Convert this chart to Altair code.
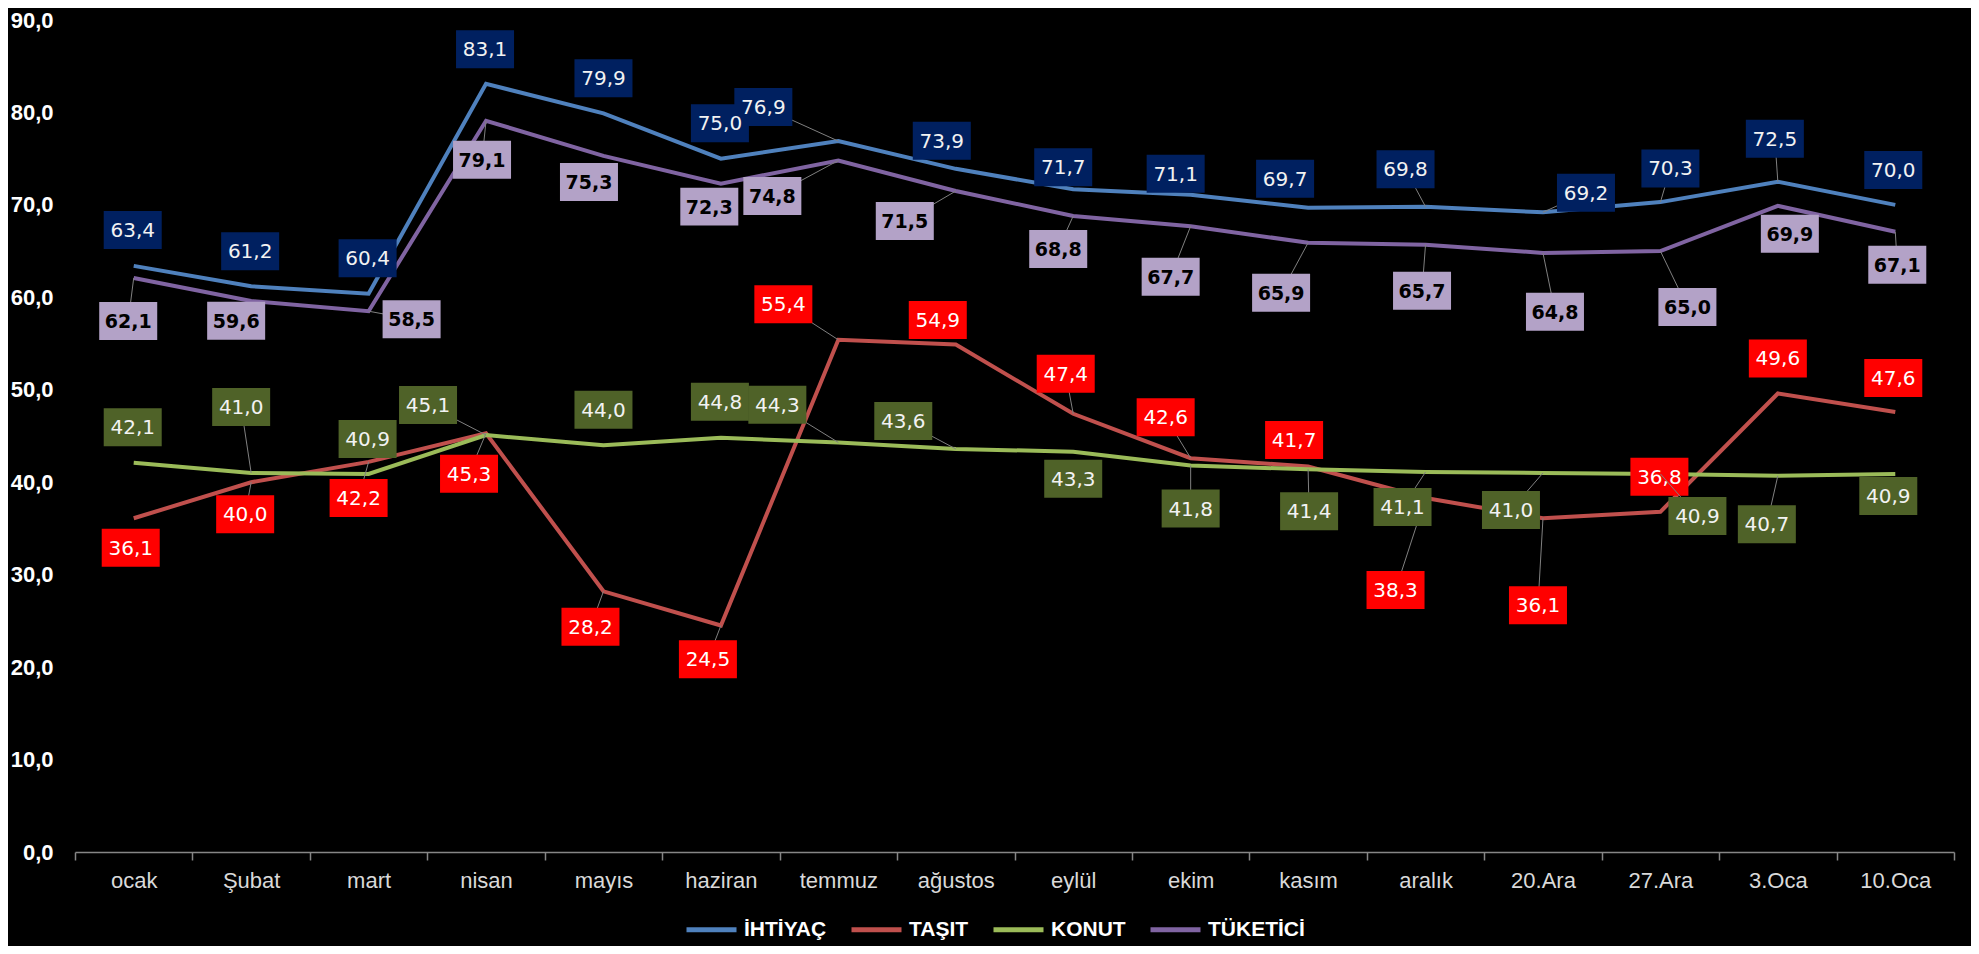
import json
import altair as alt
import pandas as pd

# ---------------- data ----------------
categories = ["ocak", "Şubat", "mart", "nisan", "mayıs", "haziran", "temmuz", "ağustos",
              "eylül", "ekim", "kasım", "aralık", "20.Ara", "27.Ara", "3.Oca", "10.Oca"]
series_names = ["İHTİYAÇ", "TAŞIT", "KONUT", "TÜKETİCİ"]

ihtiyac = [63.4, 61.2, 60.4, 83.1, 79.9, 75.0, 76.9, 73.9, 71.7, 71.1, 69.7, 69.8, 69.2, 70.3, 72.5, 70.0]
tasit = [36.1, 40.0, 42.2, 45.3, 28.2, 24.5, 55.4, 54.9, 47.4, 42.6, 41.7, 38.3, 36.1, 36.8, 49.6, 47.6]
konut = [42.1, 41.0, 40.9, 45.1, 44.0, 44.8, 44.3, 43.6, 43.3, 41.8, 41.4, 41.1, 41.0, 40.9, 40.7, 40.9]
tuketici = [62.1, 59.6, 58.5, 79.1, 75.3, 72.3, 74.8, 71.5, 68.8, 67.7, 65.9, 65.7, 64.8, 65.0, 69.9, 67.1]

# ---------------- label placement (pixel offsets from the point: dx right, dy down) ----------------
ihtiyac_dx = [-1, -1, -1, -1, 0, -1, -75, -14, -10, -15, -23, -20, 43, 10, -3, -2]
ihtiyac_dy = [-36, -35, -35.5, -34.5, -35, -35.4, -34, -28, -22, -21, -29, -37.4, -19.5, -33.7, -43, -35]
ihtiyac_leader = [6, 11, 12, 13, 14]

tasit_dx = [-3, -6, -10, -17, -13, -13, -55, -18, -7.5, -25, -14, -30, -5, -1, 0, -2]
tasit_dy = [29.5, 32, 36, 40.6, 35.5, 33.7, -35.6, -24.5, -40, -41, -26.4, 92, 87, -35, -35, -34]
tasit_leader = [1, 2, 3, 4, 5, 6, 8, 9, 11, 12]

konut_dx = [-1, -10, -1, -58, 0, -1, -61, -52.5, 0, 0, 1, -23, -32, 37, -11, -7]
konut_dy = [-35.5, -66, -35, -30, -35.5, -36, -37.7, -28, 27, 43, 42, 35, 37, 42, 48.5, 22]
konut_leader = [1, 3, 6, 7, 9, 10, 11, 12, 13, 14]

tuketici_dx = [-5.5, -15, 43, -4, -14.5, -11.6, -66, -51, -15, -20, -27, -3.5, 12, 27, 12, 2]
tuketici_dy = [43, 19.6, 8, 39, 26, 23, 35.5, 30, 33, 50.6, 50, 46, 58.7, 56, 28, 33]
tuketici_leader = [0, 2, 3, 6, 7, 8, 9, 10, 11, 12, 13, 15]

# ---------------- style ----------------
line_colors = ["#4F81BD", "#C0504D", "#9BBB59", "#8064A2"]
box_colors = ["#002060", "#FF0000", "#4F6228", "#B3A2C7"]
text_colors = ["#F2F2F2", "#FFFFFF", "#F2F2F2", "#000000"]
text_weights = ["normal", "normal", "normal", "bold"]
text_sizes = [20, 20, 20, 19]

W, H = 1879, 832
PX = W / 16.0
PY = H / 90.0

values = [ihtiyac, tasit, konut, tuketici]
dxs = [ihtiyac_dx, tasit_dx, konut_dx, tuketici_dx]
dys = [ihtiyac_dy, tasit_dy, konut_dy, tuketici_dy]
leaders = [ihtiyac_leader, tasit_leader, konut_leader, tuketici_leader]

rows = []
for s, name in enumerate(series_names):
    for i, v in enumerate(values[s]):
        rows.append({
            "series": name, "order": s, "x": i + 0.5, "value": v,
            "lx": i + 0.5 + dxs[s][i] / PX, "ly": v - dys[s][i] / PY,
            "label": f"{v:.1f}".replace(".", ","),
            "leader": i in leaders[s],
        })
df = pd.DataFrame(rows)

x_scale = alt.Scale(domain=[0, 16], nice=False, zero=False)
y_scale = alt.Scale(domain=[0, 90], nice=False, zero=True)

cats_js = json.dumps(categories, ensure_ascii=False)
x_axis = alt.Axis(
    values=list(range(17)), labelExpr=f"{cats_js}[datum.value] || ''",
    labelOffset=W / 32.0, labelFlush=False, labelOverlap=False, labelBound=False,
    grid=False, title=None, domainColor="#868686", domainWidth=1.5,
    tickColor="#868686", tickWidth=1.5, tickSize=8,
    labelColor="#D9D9D9", labelFont="Liberation Sans", labelFontSize=22, labelPadding=10,
)
y_axis = alt.Axis(
    values=list(range(0, 91, 10)), labelExpr="replace(format(datum.value, '.1f'), '.', ',')",
    grid=False, title=None, domain=False, ticks=False,
    labelColor="#FFFFFF", labelFont="Liberation Sans", labelFontSize=22, labelFontWeight="bold",
    labelPadding=22,
)

base = alt.Chart(df)

lines = base.mark_line(strokeWidth=4).encode(
    x=alt.X("x:Q", scale=x_scale, axis=x_axis),
    y=alt.Y("value:Q", scale=y_scale, axis=y_axis),
    color=alt.Color(
        "series:N",
        scale=alt.Scale(domain=series_names, range=line_colors),
        legend=alt.Legend(
            title=None, orient="none", legendX=609, legendY=882, direction="horizontal",
            symbolType="stroke", symbolStrokeWidth=5, symbolSize=2500, labelOffset=5,
            columnPadding=14, padding=0, labelColor="#FFFFFF", labelFont="Liberation Sans",
            labelFontSize=21, labelFontWeight="bold",
        ),
    ),
    detail="series:N",
)

layers = [lines]
box_shape = "M-1,-0.655L1,-0.655L1,0.655L-1,0.655Z"
for s, name in enumerate(series_names):
    sub = base.transform_filter(alt.datum.series == name)
    lead = sub.transform_filter(alt.datum.leader == True).mark_rule(
        color="#808080", strokeWidth=1
    ).encode(
        x=alt.X("x:Q", scale=x_scale, axis=x_axis),
        y=alt.Y("value:Q", scale=y_scale, axis=y_axis),
        x2="lx:Q", y2="ly:Q",
    )
    box = sub.mark_point(
        shape=box_shape, filled=True, size=3364, color=box_colors[s], opacity=1, strokeWidth=0
    ).encode(
        x=alt.X("lx:Q", scale=x_scale, axis=x_axis),
        y=alt.Y("ly:Q", scale=y_scale, axis=y_axis),
    )
    txt = sub.mark_text(
        font="DejaVu Sans", fontSize=text_sizes[s], fontWeight=text_weights[s],
        color=text_colors[s], align="center", baseline="middle", dy=1,
    ).encode(
        x=alt.X("lx:Q", scale=x_scale, axis=x_axis),
        y=alt.Y("ly:Q", scale=y_scale, axis=y_axis),
        text="label:N",
    )
    layers += [lead, box, txt]

chart = alt.layer(*layers).properties(
    width=W, height=H,
    autosize=alt.AutoSizeParams(type="none"),
    padding={"left": 67, "top": 12, "right": 17, "bottom": 94},
    background="black",
).configure_view(stroke=None)

chart.save("out.html", embed_options={"renderer": "svg", "actions": False})
